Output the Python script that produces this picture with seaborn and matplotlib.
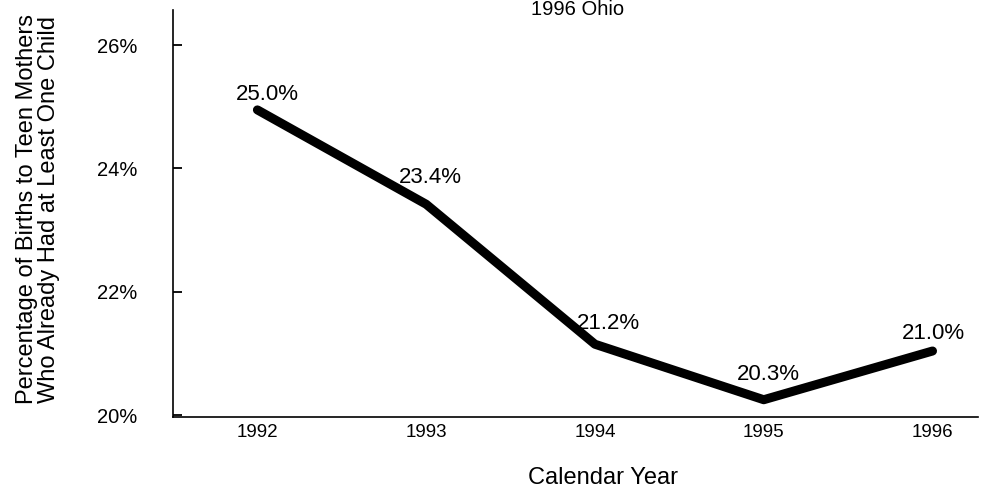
import numpy as np
import pandas as pd
import seaborn as sns
import matplotlib.pyplot as plt

# Data
years = [1992, 1993, 1994, 1995, 1996]
pct = [24.95, 23.42, 21.15, 20.25, 21.04]
pct_labels = ["25.0%", "23.4%", "21.2%", "20.3%", "21.0%"]
ytick_vals = [20, 22, 24, 26]
ytick_labels = ["20%", "22%", "24%", "26%"]

data = pd.DataFrame({"year": years, "pct": pct})

sns.set_style("ticks")
plt.rcParams['font.family'] = ['Liberation Sans', 'DejaVu Sans']
plt.rcParams['text.color'] = 'black'
plt.rcParams['axes.labelcolor'] = 'black'
plt.rcParams['xtick.color'] = 'black'
plt.rcParams['ytick.color'] = 'black'

fig = plt.figure(figsize=(9.83, 4.88), dpi=100)
ax = fig.add_axes([0.176, 0.1455, 0.819, 0.834])

sns.lineplot(data=data, x="year", y="pct", color="black", linewidth=6.5,
             ax=ax)

# value labels above each point (offsets in points, baseline anchored)
offsets = [(7, 7), (3, 15), (10, 11), (3, 14), (1, 9)]
for x, y, lab, off in zip(years, pct, pct_labels, offsets):
    ax.annotate(lab, (x, y), xytext=off, textcoords="offset points",
                ha="center", va="baseline", fontsize=16)

ax.set_xlim(1991.5, 1996.27)
ax.set_ylim(19.97, 26.57)
ax.set_xticks(years)
ax.set_xticklabels([str(y) for y in years], fontsize=13.5)
ax.set_yticks(ytick_vals)
ax.set_yticklabels(ytick_labels, fontsize=14.5)
ax.tick_params(axis="y", direction="in", length=6.5, width=1.3, pad=26)
ax.tick_params(axis="x", length=0, pad=5)

sns.despine(ax=ax)
for s in ["left", "bottom"]:
    ax.spines[s].set_linewidth(1.2)
    ax.spines[s].set_color("black")

ax.set_xlabel("Calendar Year", fontsize=17)
ax.xaxis.set_label_coords(0.534, -0.124)
ax.set_ylabel("Percentage of Births to Teen Mothers\nWho Already Had at Least One Child",
              fontsize=17, linespacing=1.0)
ax.yaxis.set_label_coords(-0.140, 0.511)

fig.text(0.588, 0.969, "1996 Ohio", ha="center", va="baseline", fontsize=14.5)

fig.savefig("out.png", dpi=100)
